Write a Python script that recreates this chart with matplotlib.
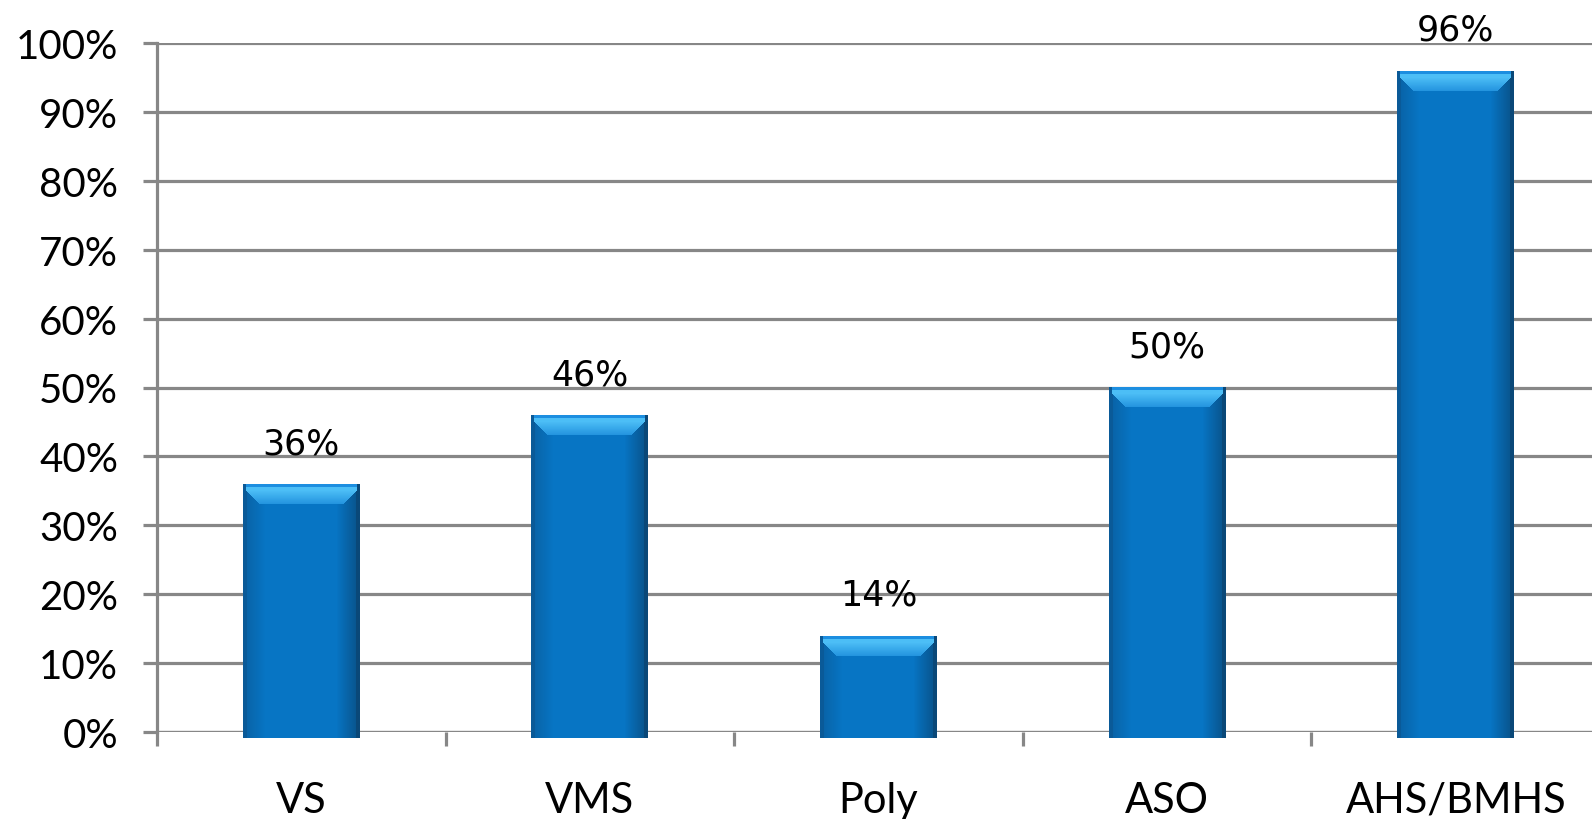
import numpy as np
import matplotlib.pyplot as plt
from matplotlib.ticker import FixedLocator, PercentFormatter

categories = ['VS', 'VMS', 'Poly', 'ASO', 'AHS/BMHS']
shares = [36, 46, 14, 50, 96]
y_ticks = list(range(0, 101, 10))

GRID = '#878787'
BASE = np.array([0x07, 0x75, 0xC4]) / 255
EDGE_L = np.array([0x0A, 0x5A, 0x98]) / 255
EDGE_R = np.array([0x0A, 0x48, 0x78]) / 255
TOP = np.array([0x1C, 0x8E, 0xE0]) / 255
BEVEL = np.array([0x4C, 0xBE, 0xF6]) / 255
BEVEL_LOW = np.array([0x22, 0x92, 0xDE]) / 255


def bar_image(w_px, h_px):
    # horizontal shading: dark rims, soft ramp into the flat middle
    x = np.arange(w_px)
    img = np.tile(BASE, (h_px, w_px, 1)).astype(float)
    for i in x:
        if i < 4:
            c = EDGE_L
        elif i < 22:
            t = (i - 4) / 18
            c = EDGE_L * (1 - t) * 0.6 + BASE * (1 - 0.6 * (1 - t))
        elif i >= w_px - 4:
            c = EDGE_R
        elif i >= w_px - 24:
            t = (w_px - 4 - i) / 20
            c = EDGE_R * (1 - t) * 0.7 + BASE * (1 - 0.7 * (1 - t))
        else:
            continue
        img[:, i] = c
    # bevelled top face
    for r in range(min(20, h_px)):
        if r < 3:
            img[r, 3:w_px - 3] = TOP
            continue
        inset = 3 + max(0, r - 6)
        t = max(0, (r - 6) / 14)
        img[r, inset:w_px - inset] = BEVEL * (1 - t) + BEVEL_LOW * t
    return img


fig = plt.figure(figsize=(15.92, 8.2), dpi=100)
ax = fig.add_axes([157 / 1592, 87 / 820, 1443 / 1592, 689 / 820])

n = len(categories)
ax.set_xlim(0, n)
ax.set_ylim(0, 100)

ax.yaxis.set_major_locator(FixedLocator(y_ticks))
ax.yaxis.set_major_formatter(PercentFormatter(decimals=0))
ax.grid(axis='y', color=GRID, linewidth=2.3)
ax.set_axisbelow(True)

for s in ['top', 'right', 'bottom']:
    ax.spines[s].set_visible(False)
ax.spines['left'].set_color(GRID)
ax.spines['left'].set_linewidth(2.3)
ax.axhline(0, color=GRID, linewidth=2.3, zorder=1)

ax.tick_params(axis='y', length=10, width=2.3, color=GRID, pad=18,
               labelsize=29)
ax.set_xticks(np.arange(0, n + 1))
ax.set_xticklabels([])
ax.set_xticks(np.arange(n) + 0.5, minor=True)
ax.set_xticklabels(categories, minor=True)
ax.tick_params(axis='x', which='major', length=10, width=2.3, color=GRID,
               direction='out')
ax.tick_params(axis='x', which='minor', length=0, pad=35, labelsize=30)
for lab in ax.get_yticklabels() + ax.get_xticklabels(minor=True):
    lab.set_family('Lato')

width = 0.405
px_per_x = 1443 / n
px_per_y = 689 / 100
sink = 0.8  # bars drop a little under the baseline
for i, v in enumerate(shares):
    x0 = i + 0.5 - width / 2
    w_px = int(round(width * px_per_x))
    h_px = int(round((v + sink) * px_per_y))
    ax.imshow(bar_image(w_px, h_px), extent=(x0, x0 + width, -sink, v),
              aspect='auto', interpolation='nearest', zorder=3, clip_on=False)
    ax.annotate(f'{v}%', (i + 0.5, v), xytext=(0, 17),
                textcoords='offset points', ha='center', va='bottom',
                fontsize=25, family='DejaVu Sans', zorder=4)

ax.set_xlim(0, n)
ax.set_ylim(0, 100)

fig.savefig('out.png', dpi=100)
